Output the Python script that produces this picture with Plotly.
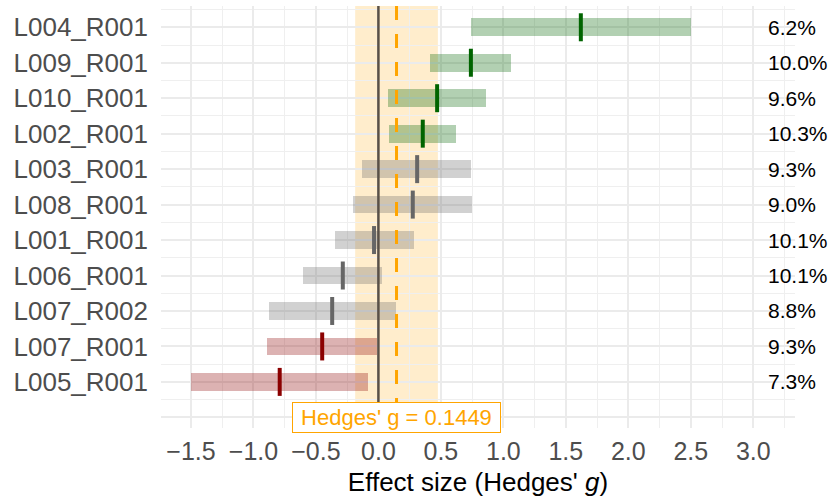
import plotly.graph_objects as go

# ---- data (top row first) ----
labels = ["L004_R001", "L009_R001", "L010_R001", "L002_R001", "L003_R001", "L008_R001",
          "L001_R001", "L006_R001", "L007_R002", "L007_R001", "L005_R001"]
estimate = [1.62, 0.74, 0.47, 0.355, 0.31, 0.275, -0.035, -0.285, -0.37, -0.45, -0.79]
ci_low = [0.74, 0.415, 0.08, 0.085, -0.13, -0.20, -0.35, -0.60, -0.875, -0.89, -1.50]
ci_high = [2.50, 1.06, 0.86, 0.62, 0.74, 0.75, 0.285, 0.03, 0.14, -0.01, -0.08]
weights = ["6.2%", "10.0%", "9.6%", "10.3%", "9.3%", "9.0%", "10.1%", "10.1%", "8.8%", "9.3%", "7.3%"]
status = ["pos", "pos", "pos", "pos", "ns", "ns", "ns", "ns", "ns", "neg", "neg"]

pooled_g = 0.1449
pooled_low = -0.186
pooled_high = 0.476
x_ticks = [-1.5, -1.0, -0.5, 0.0, 0.5, 1.0, 1.5, 2.0, 2.5, 3.0]
x_tick_text = ["\u22121.5", "\u22121.0", "\u22120.5", "0.0", "0.5", "1.0", "1.5", "2.0", "2.5", "3.0"]

# ---- styles ----
fill_col = {"pos": "rgba(0,100,0,0.3)", "ns": "rgba(102,102,102,0.3)", "neg": "rgba(139,0,0,0.3)"}
mark_col = {"pos": "#006400", "ns": "#666666", "neg": "#8B0000"}
FONT = "Liberation Sans, Arial, Helvetica, sans-serif"

n = len(labels)
ypos = [n - i for i in range(n)]

fig = go.Figure()

fig.add_trace(go.Bar(
    orientation="h",
    y=ypos,
    x=[h - l for l, h in zip(ci_low, ci_high)],
    base=ci_low,
    width=0.5,
    marker=dict(color=[fill_col[s] for s in status], line=dict(width=0)),
    hoverinfo="skip",
    showlegend=False,
))

fig.add_trace(go.Scatter(
    x=estimate,
    y=ypos,
    mode="markers",
    marker=dict(symbol="line-ns", size=20,
                line=dict(width=4, color=[mark_col[s] for s in status])),
    showlegend=False,
    hoverinfo="skip",
))

# pooled CI band
fig.add_shape(type="rect", xref="x", yref="y domain", x0=pooled_low, x1=pooled_high,
              y0=0, y1=1, fillcolor="rgba(255,165,0,0.2)", line=dict(width=0), layer="below")
# zero line
fig.add_shape(type="line", xref="x", yref="y domain", x0=0, x1=0, y0=0, y1=1,
              line=dict(color="#595046", width=2.5), layer="above")
# pooled estimate dashed line
fig.add_shape(type="line", xref="x", yref="y domain", x0=pooled_g, x1=pooled_g, y0=1, y1=0,
              line=dict(color="#FFA500", width=3, dash="14px,14px"), layer="above")

# pooled label
fig.add_annotation(x=pooled_g, y=0, xref="x", yref="y",
                   text=f" Hedges' g = {pooled_g:.4f} ", showarrow=False,
                   font=dict(family=FONT, size=22, color="#FFA500"),
                   bgcolor="white", bordercolor="#FFA500", borderwidth=1, borderpad=2)

# weight labels
for yv, w in zip(ypos, weights):
    fig.add_annotation(x=3.1, y=yv, xref="x", yref="y", text=w, showarrow=False,
                       xanchor="left", yanchor="middle",
                       font=dict(family=FONT, size=21, color="black"))

fig.update_layout(
    width=832, height=498,
    margin=dict(l=161, r=37, t=6, b=70, autoexpand=False),
    plot_bgcolor="white", paper_bgcolor="white",
    bargap=0,
    hovermode=False,
    font=dict(family=FONT),
    xaxis=dict(
        range=[-1.74, 3.334],
        automargin=False,
        tickvals=x_ticks, ticktext=x_tick_text,
        showgrid=True, gridcolor="#EBEBEB", gridwidth=2,
        minor=dict(dtick=0.25, tick0=0, showgrid=True, gridcolor="#EFEFEF", gridwidth=1),
        zeroline=False, showline=False, ticks="",
        tickfont=dict(family=FONT, size=25, color="#4D4D4D"),
        ticklabelstandoff=6,
        title=dict(text="Effect size (Hedges' <i>g</i>)",
                   font=dict(family=FONT, size=26, color="black"), standoff=8),
    ),
    yaxis=dict(
        range=[-0.3, 11.6],
        automargin=False,
        tickvals=[0] + ypos, ticktext=[""] + labels,
        showgrid=True, gridcolor="#EBEBEB", gridwidth=2,
        minor=dict(dtick=0.5, tick0=0.5, showgrid=True, gridcolor="#EFEFEF", gridwidth=1),
        zeroline=False, showline=False, ticks="",
        tickfont=dict(family=FONT, size=26, color="#4D4D4D"),
        ticklabelstandoff=12,
    ),
)

fig.write_html("out.html", config={"displayModeBar": False},
               post_script="document.body.style.margin='0';")
